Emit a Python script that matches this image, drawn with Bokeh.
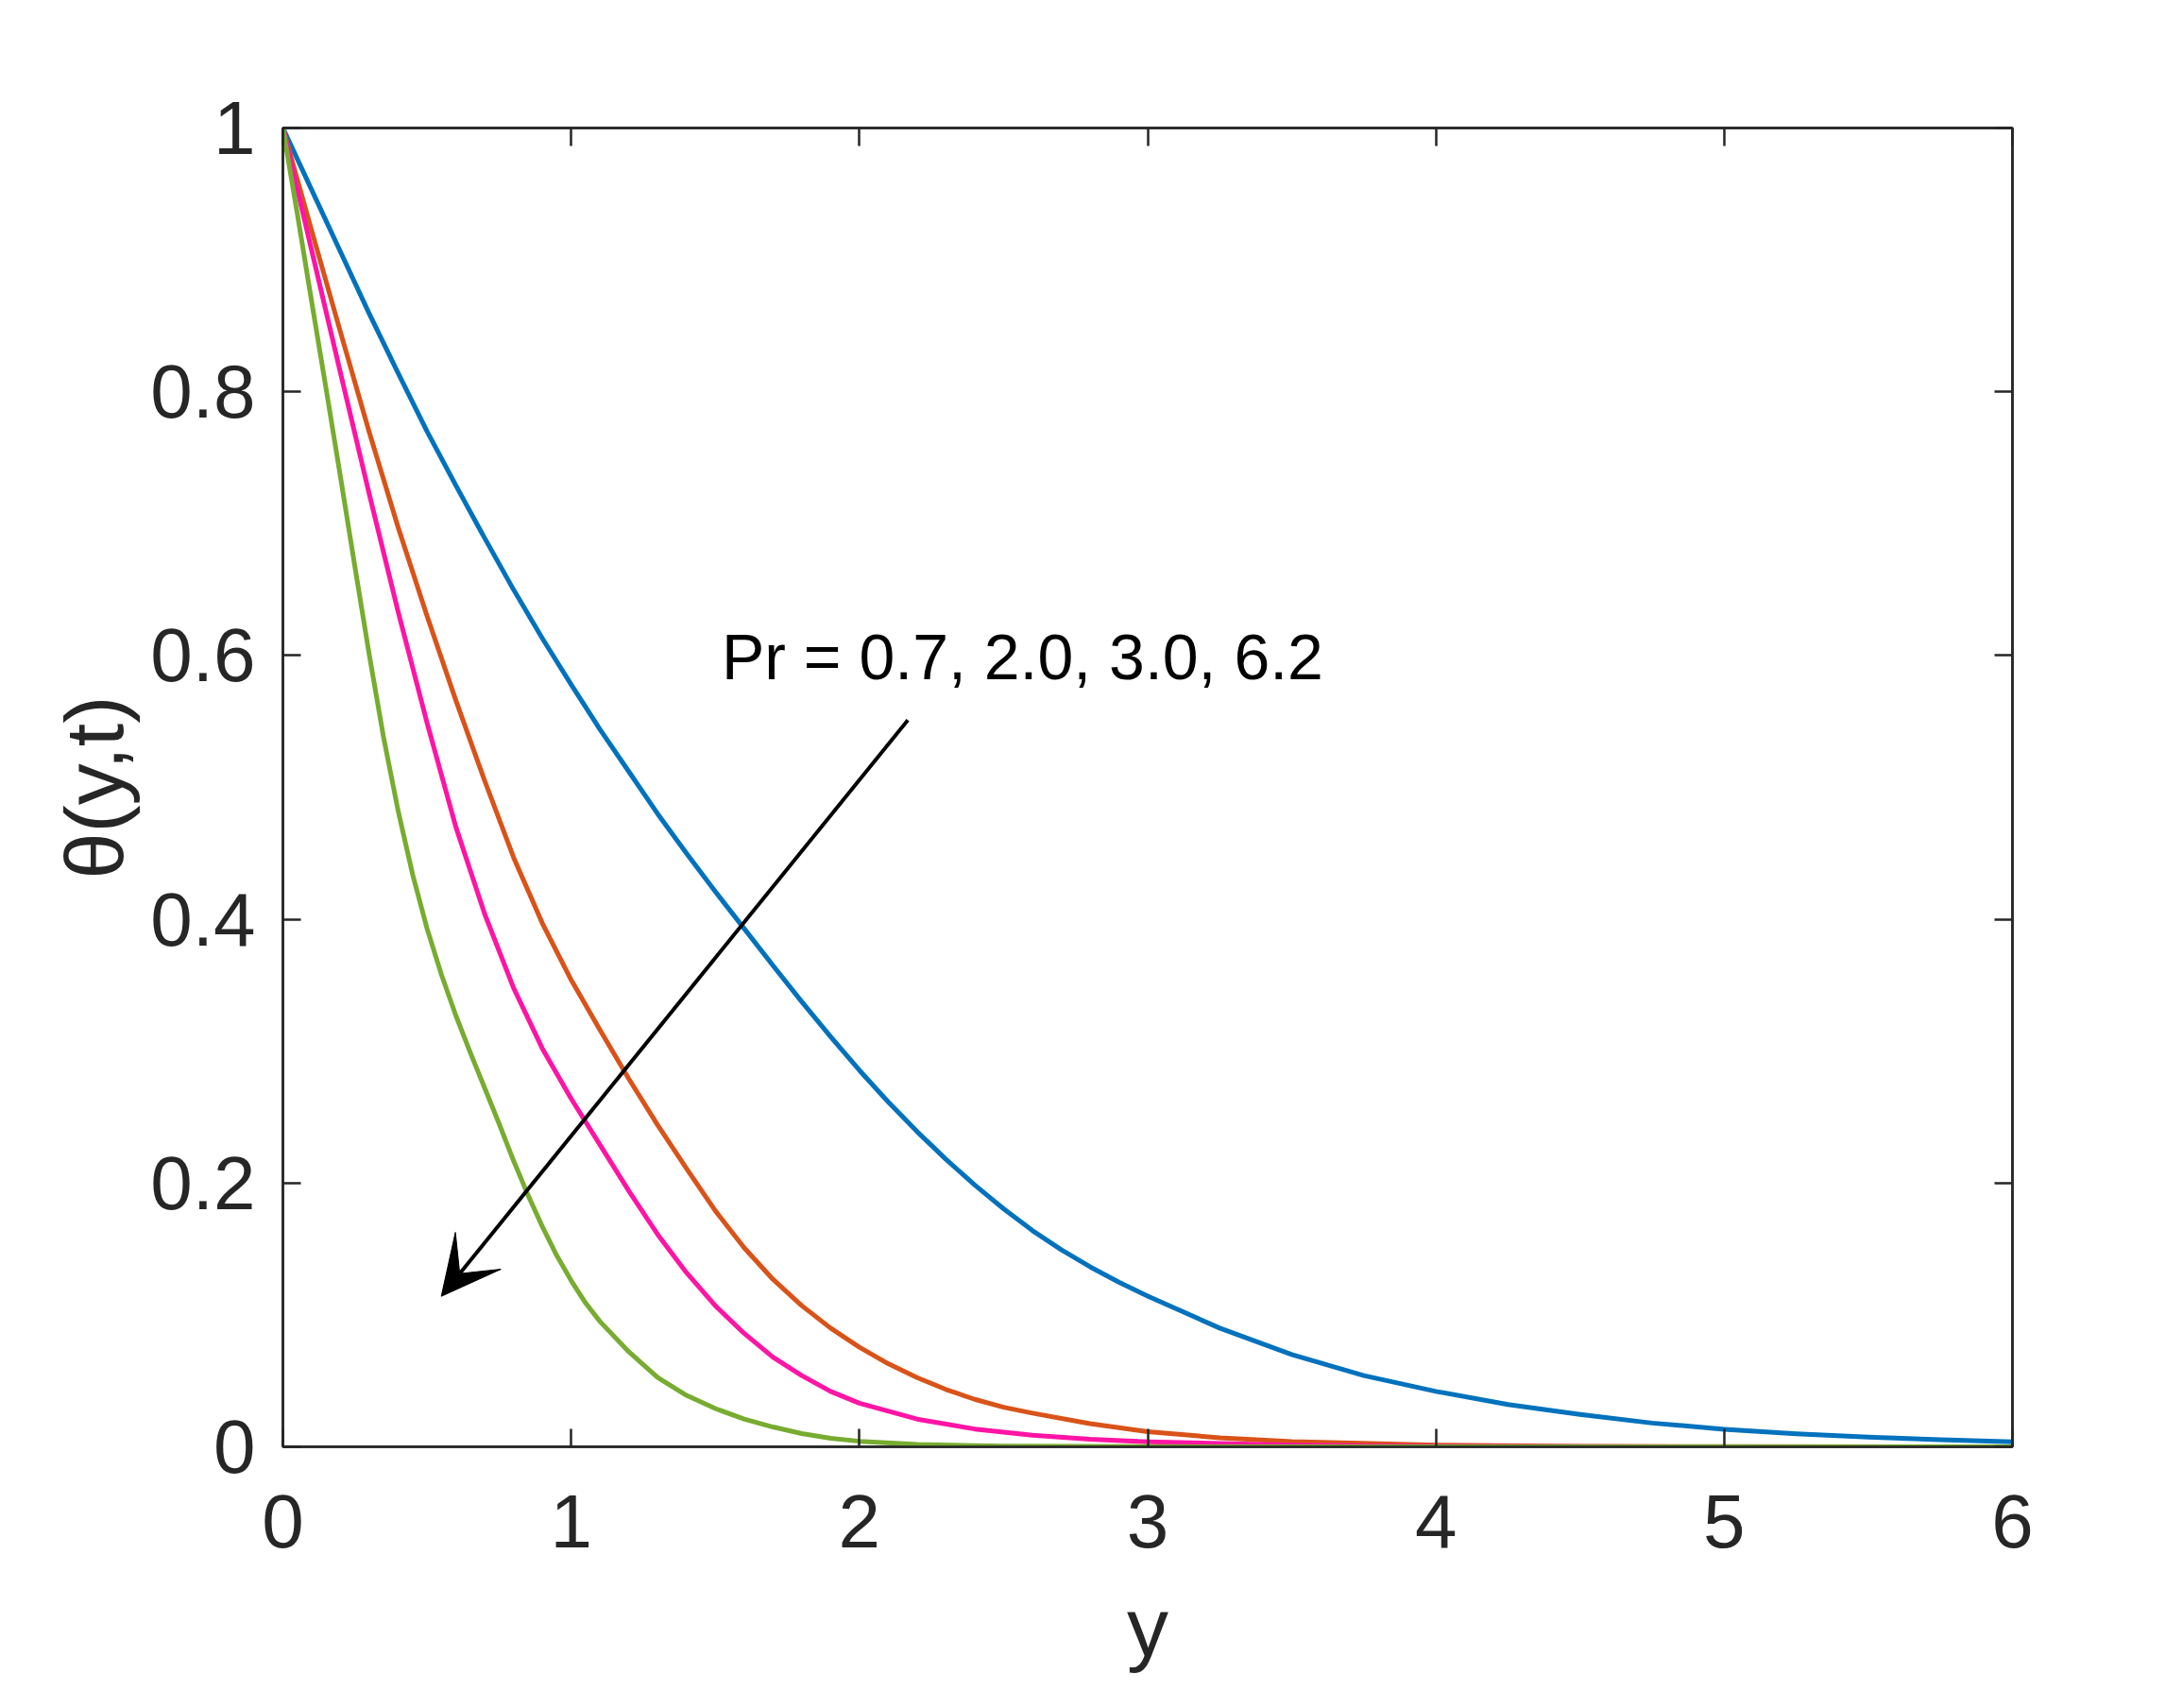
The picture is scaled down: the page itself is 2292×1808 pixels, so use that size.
from bokeh.plotting import figure
from bokeh.models import (Range1d, LinearAxis, FixedTicker, Label, Arrow, VeeHead,
                          CustomJSTickFormatter)
from bokeh.embed import file_html
from bokeh.resources import INLINE

# ---- data ----
y_pr07 = [0.0, 0.1, 0.2, 0.3, 0.4, 0.5, 0.6, 0.7, 0.8, 0.9, 1.0, 1.1, 1.2, 1.3, 1.4, 1.5,
          1.6, 1.7, 1.8, 1.9, 2.0, 2.1, 2.2, 2.3, 2.4, 2.5, 2.6, 2.7, 2.8, 2.9, 3.0,
          3.25, 3.5, 3.75, 4.0, 4.25, 4.5, 4.75, 5.0, 5.25, 5.5, 5.75, 6.0]
theta_pr07 = [1.0, 0.953, 0.906, 0.859, 0.814, 0.770, 0.729, 0.689, 0.650, 0.613, 0.578, 0.544,
              0.512, 0.480, 0.450, 0.421, 0.393, 0.365, 0.3375, 0.311, 0.2855, 0.2615, 0.239,
              0.218, 0.1985, 0.1805, 0.164, 0.1495, 0.1365, 0.1248, 0.1143,
              0.090, 0.070, 0.054, 0.042, 0.032, 0.0245, 0.018, 0.0133, 0.0098, 0.0073, 0.0053, 0.0038]

y_pr20 = [0.0, 0.1, 0.2, 0.3, 0.4, 0.5, 0.6, 0.7, 0.8, 0.9, 1.0, 1.1, 1.2, 1.3, 1.4, 1.5,
          1.6, 1.7, 1.8, 1.9, 2.0, 2.1, 2.2, 2.3, 2.4, 2.5, 2.6, 2.8, 3.0, 3.25, 3.5,
          4.0, 4.5, 5.0, 6.0]
theta_pr20 = [1.0, 0.922, 0.845, 0.769, 0.697, 0.630, 0.566, 0.505, 0.447, 0.397, 0.354, 0.316,
              0.279, 0.244, 0.211, 0.179, 0.151, 0.127, 0.107, 0.090, 0.0755, 0.063, 0.0525,
              0.0435, 0.036, 0.030, 0.0255, 0.0175, 0.0115, 0.0068, 0.0040,
              0.0013, 0.0004, 0.0001, 0.0]

y_pr30 = [0.0, 0.1, 0.2, 0.3, 0.4, 0.5, 0.6, 0.7, 0.8, 0.9, 1.0, 1.1, 1.2, 1.3, 1.4, 1.5,
          1.6, 1.7, 1.8, 1.9, 2.0, 2.2, 2.4, 2.6, 2.8, 3.0, 3.5, 4.0, 5.0, 6.0]
theta_pr30 = [1.0, 0.907, 0.814, 0.722, 0.633, 0.549, 0.470, 0.404, 0.348, 0.302, 0.264, 0.229,
              0.194, 0.161, 0.132, 0.107, 0.086, 0.068, 0.054, 0.042, 0.033, 0.021, 0.0135,
              0.0088, 0.0058, 0.0038, 0.0012, 0.0003, 0.0, 0.0]

y_pr62 = [0.0, 0.05, 0.1, 0.15, 0.2, 0.25, 0.3, 0.35, 0.4, 0.45, 0.5, 0.55, 0.6, 0.65, 0.7,
          0.75, 0.8, 0.85, 0.9, 0.95, 1.0, 1.05, 1.1, 1.2, 1.3, 1.4, 1.5, 1.6, 1.7, 1.8,
          1.9, 2.0, 2.2, 2.5, 3.0, 4.0, 6.0]
theta_pr62 = [1.0, 0.935, 0.868, 0.802, 0.735, 0.667, 0.600, 0.537, 0.482, 0.434, 0.393, 0.358,
              0.327, 0.299, 0.272, 0.245, 0.217, 0.191, 0.167, 0.145, 0.126, 0.109, 0.095,
              0.072, 0.0525, 0.039, 0.029, 0.021, 0.015, 0.010, 0.0065, 0.0042, 0.0018,
              0.0005, 0.0001, 0.0, 0.0]

x_ticks = [0, 1, 2, 3, 4, 5, 6]
y_ticks = [0, 0.2, 0.4, 0.6, 0.8, 1]
y_tick_labels = ["0", "0.2", "0.4", "0.6", "0.8", "1"]
x_label = "y"
y_label = "θ(y,t)"
annotation_text = "Pr = 0.7, 2.0, 3.0, 6.2"

# ---- figure ----
AX = "#262626"
FONT = "Liberation Sans"

p = figure(width=2284, height=1800, x_range=Range1d(0, 6), y_range=Range1d(0, 1),
           output_backend="svg", toolbar_location=None,
           min_border_left=299, min_border_right=154, min_border_top=135, min_border_bottom=269)
p.grid.visible = False
p.background_fill_color = "white"
p.border_fill_color = "white"
p.outline_line_color = AX
p.outline_line_width = 2.5

series = [
    (y_pr07, theta_pr07, "#0072BD"),
    (y_pr20, theta_pr20, "#D95319"),
    (y_pr30, theta_pr30, "#FF14A5"),
    (y_pr62, theta_pr62, "#77AC30"),
]
for xs, ys, col in series:
    p.line(xs, ys, line_color=col, line_width=5, line_join="round")


def style(ax, ticks):
    ax.ticker = FixedTicker(ticks=ticks)
    ax.axis_line_color = AX
    ax.axis_line_width = 2.5
    ax.major_tick_line_color = AX
    ax.major_tick_line_width = 2.5
    ax.major_tick_in = 19
    ax.major_tick_out = 0
    ax.minor_tick_line_color = None
    ax.major_label_text_font = FONT
    ax.major_label_text_font_size = "80px"
    ax.major_label_text_color = AX
    ax.axis_label_text_font = FONT
    ax.axis_label_text_font_size = "88px"
    ax.axis_label_text_color = AX
    ax.axis_label_text_font_style = "normal"


xa = p.xaxis[0]
style(xa, x_ticks)
xa.axis_label = x_label
xa.major_label_standoff = 51
xa.axis_label_standoff = 32

ya = p.yaxis[0]
style(ya, y_ticks)
ya.axis_label = y_label
ya.major_label_overrides = {t: s for t, s in zip(y_ticks, y_tick_labels)}
ya.major_label_standoff = 29
ya.axis_label_standoff = 7

blank = "return ''"
top = LinearAxis()
style(top, x_ticks)
top.formatter = CustomJSTickFormatter(code=blank)
top.major_label_text_font_size = "0px"
p.add_layout(top, "above")

right = LinearAxis()
style(right, y_ticks)
right.formatter = CustomJSTickFormatter(code=blank)
right.major_label_text_font_size = "0px"
p.add_layout(right, "right")

p.add_layout(Label(x=1.522, y=0.599, text=annotation_text, text_font=FONT,
                   text_font_size="68px", text_color="black", text_baseline="alphabetic"))

p.add_layout(Arrow(end=VeeHead(size=62, fill_color="black", line_color="black", line_width=1),
                   x_start=2.168, y_start=0.551, x_end=0.5495, y_end=0.1141,
                   line_color="black", line_width=4))

open("out.html", "w").write(file_html(p, INLINE))
